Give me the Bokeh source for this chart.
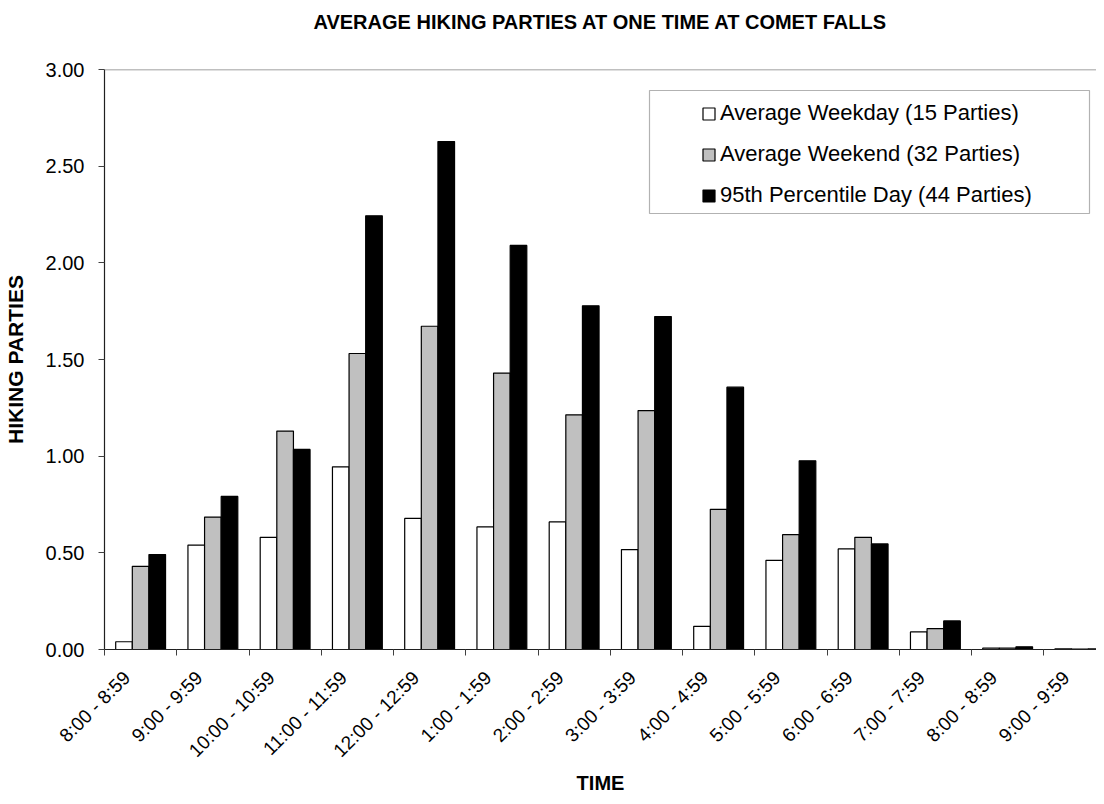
import math
from bokeh.plotting import figure
from bokeh.models import (Range1d, FixedTicker, NumeralTickFormatter, Span, Legend,
                          LegendItem, BoxAnnotation, ColumnDataSource, LinearAxis)
from bokeh.transform import dodge
from bokeh.embed import file_html
from bokeh.resources import INLINE

# ---- data ----
time_labels = ["8:00 - 8:59", "9:00 - 9:59", "10:00 - 10:59", "11:00 - 11:59",
               "12:00 - 12:59", "1:00 - 1:59", "2:00 - 2:59", "3:00 - 3:59",
               "4:00 - 4:59", "5:00 - 5:59", "6:00 - 6:59", "7:00 - 7:59",
               "8:00 - 8:59", "9:00 - 9:59"]
weekday = [0.04, 0.54, 0.58, 0.945, 0.678, 0.634, 0.66, 0.517, 0.12, 0.461, 0.52, 0.091, 0.007, 0.004]
weekend = [0.43, 0.685, 1.13, 1.531, 1.672, 1.43, 1.214, 1.236, 0.725, 0.594, 0.58, 0.108, 0.007, 0.002]
pct95 = [0.491, 0.792, 1.035, 2.243, 2.627, 2.09, 1.778, 1.722, 1.357, 0.976, 0.546, 0.148, 0.014, 0.003]
series_names = ["Average Weekday (15 Parties)", "Average Weekend (32 Parties)",
                "95th Percentile Day (44 Parties)"]
y_ticks = [0.0, 0.5, 1.0, 1.5, 2.0, 2.5, 3.0]
title_text = "AVERAGE HIKING PARTIES AT ONE TIME AT COMET FALLS"

FONT = "Liberation Sans"

n = len(time_labels)
src = ColumnDataSource(dict(x=list(range(n)), wd=weekday, we=weekend, pc=pct95))

p = figure(width=1096, height=796, x_range=Range1d(-0.5, 13.23), y_range=Range1d(0, 3),
           output_backend="svg", toolbar_location=None,
           min_border_left=103, min_border_right=0, min_border_top=69, min_border_bottom=146)
p.xgrid.visible = False
p.ygrid.visible = False
p.outline_line_color = None
p.background_fill_color = "white"
p.border_fill_color = "white"

bw = 0.23
r1 = p.vbar(x=dodge("x", -0.23, range=p.x_range), top="wd", width=bw, source=src,
            fill_color="white", line_color="black", line_width=1.2)
r2 = p.vbar(x=dodge("x", 0.0, range=p.x_range), top="we", width=bw, source=src,
            fill_color="#C0C0C0", line_color="black", line_width=1.2)
r3 = p.vbar(x=dodge("x", 0.23, range=p.x_range), top="pc", width=bw, source=src,
            fill_color="black", line_color="black", line_width=1.2)

# top border line
p.add_layout(Span(location=3.0, dimension="width", line_color="#808080", line_width=1.5))

# x axis (below): labels slightly left of category centre, boundary ticks as minor ticks
label_pos = [i - 0.19 for i in range(n)]
xa = p.below[0]
xa.ticker = FixedTicker(ticks=label_pos, minor_ticks=[i - 0.5 for i in range(n + 1)])
xa.major_label_overrides = {label_pos[i]: time_labels[i] for i in range(n)}
xa.major_label_orientation = math.pi / 4
xa.major_tick_out = 0
xa.major_tick_in = 0
xa.minor_tick_out = 6
xa.minor_tick_in = 0
xa.minor_tick_line_color = "#404040"
xa.axis_line_color = "#202020"
xa.axis_line_width = 1.2
xa.major_label_text_font = FONT
xa.major_label_text_font_size = "19px"
xa.major_label_text_color = "black"
xa.major_label_standoff = 19
xa.axis_label = "TIME"
xa.axis_label_text_font = FONT
xa.axis_label_text_font_size = "20px"
xa.axis_label_text_font_style = "bold"
xa.axis_label_text_color = "black"
xa.axis_label_standoff = 0

# y axis
ya = p.left[0]
ya.ticker = FixedTicker(ticks=y_ticks)
ya.formatter = NumeralTickFormatter(format="0.00")
ya.major_tick_out = 6
ya.major_tick_in = 0
ya.minor_tick_out = 0
ya.minor_tick_in = 0
ya.major_tick_line_color = "#404040"
ya.axis_line_color = "#202020"
ya.axis_line_width = 1.2
ya.major_label_text_font = FONT
ya.major_label_text_font_size = "20px"
ya.major_label_text_color = "black"
ya.major_label_standoff = 14
ya.axis_label = "HIKING PARTIES"
ya.axis_label_text_font = FONT
ya.axis_label_text_font_size = "21px"
ya.axis_label_text_font_style = "bold"
ya.axis_label_text_color = "black"
ya.axis_label_standoff = 16

# title: shown as the label of a bare axis above the frame
title_axis = LinearAxis(ticker=FixedTicker(ticks=[]), axis_line_color=None,
                        major_tick_out=0, major_tick_in=0, minor_tick_out=0, minor_tick_in=0,
                        major_label_standoff=0, major_label_text_font_size="1px",
                        axis_label=title_text, axis_label_text_font=FONT,
                        axis_label_text_font_size="20px", axis_label_text_font_style="bold",
                        axis_label_text_color="black", axis_label_standoff=37)
p.add_layout(title_axis, "above")

# legend box border
p.add_layout(BoxAnnotation(left=545, right=985, bottom=436, top=559,
                           left_units="screen", right_units="screen",
                           bottom_units="screen", top_units="screen",
                           fill_color=None, line_color="black", line_width=1.2))

legend = Legend(items=[LegendItem(label=series_names[0], renderers=[r1]),
                       LegendItem(label=series_names[1], renderers=[r2]),
                       LegendItem(label=series_names[2], renderers=[r3])],
                location=(597, 441), padding=0, margin=0, spacing=15,
                glyph_width=15, glyph_height=15, label_height=26, label_standoff=4,
                border_line_color=None, background_fill_alpha=0,
                label_text_font=FONT, label_text_font_size="22px", label_text_color="black")
p.add_layout(legend, "center")

open("out.html", "w").write(file_html(p, INLINE))
